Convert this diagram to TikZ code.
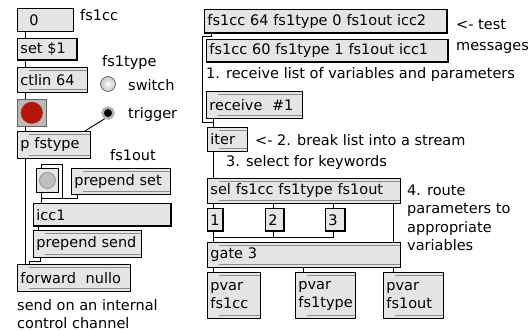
\documentclass[tikz,border=0pt]{standalone}
\usepackage{fontspec}
\setmainfont{DejaVu Sans}
\definecolor{boxfill}{RGB}{229,229,229}
\definecolor{stripe}{RGB}{140,140,140}
\definecolor{bangred}{RGB}{180,22,10}
\tikzset{
  maxbox/.style={draw, line width=0.9pt, fill=boxfill, anchor=north west,
    inner xsep=3pt, inner ysep=0pt, align=left, font=\fontsize{14.5}{18}\selectfont},
  obj/.style={maxbox, path picture={
      \draw[stripe, line width=0.8pt] ([yshift=-3pt]path picture bounding box.north west) -- ([yshift=-3pt]path picture bounding box.north east);
      \draw[stripe, line width=0.8pt] ([yshift=3pt]path picture bounding box.south west) -- ([yshift=3pt]path picture bounding box.south east);
      \fill ([yshift=-3.5pt]path picture bounding box.north west) rectangle ([xshift=12pt]path picture bounding box.north west);
      \fill ([yshift=3.5pt]path picture bounding box.south west) rectangle ([xshift=12pt]path picture bounding box.south west);}},
  msg/.style={maxbox, path picture={
      \draw[line width=2.6pt] (path picture bounding box.south west) -- (path picture bounding box.south east) -- (path picture bounding box.north east);}},
  numbox/.style={maxbox},
  redbang/.style={anchor=north west, minimum width=29pt, minimum height=27pt, inner sep=0pt,
    fill=gray!55, draw=gray!80!black, line width=0.6pt,
    path picture={\fill[bangred] (path picture bounding box.center) circle[radius=11pt];}},
  graybang/.style={anchor=north west, minimum width=22pt, minimum height=24pt, inner sep=0pt,
    fill=boxfill, draw, line width=0.9pt,
    path picture={\filldraw[fill=gray!50, draw=gray!80] (path picture bounding box.center) circle[radius=8pt];}},
  radio/.style={circle, inner sep=0pt},
  radiooff/.style={radio, minimum size=15pt, draw=gray!70!black, line width=0.6pt, inner color=white, outer color=gray!45},
  radioon/.style={radio, minimum size=11pt, fill=black, draw=gray!60, line width=2.5pt},
  note/.style={anchor=west, inner sep=0pt, align=left, font=\fontsize{14.5}{18}\selectfont},
  cord/.style={line width=0.9pt}
}
\begin{document}
\begin{tikzpicture}[x=1pt,y=-1pt]
\useasboundingbox[fill=white] (0,0) rectangle (531,331);

% left column: controller input
\node[numbox, text width=50pt, minimum height=23pt] (num) at (17,8) {\hspace*{9pt}0};
\node[note] (lcc) at (80,15) {fs1cc};
\node[msg, text width=54pt, minimum height=22pt] (set) at (17,38) {set \$1};
\node[obj, text width=64pt, minimum height=25pt] (ctlin) at (17,67) {ctlin 64};
\node[redbang] (bang) at (17,99) {};
\node[note] (ltype) at (102,63) {fs1type};
\node[radiooff] (sw) at (108,84) {};
\node[note] (lsw) at (128,85) {switch};
\node[radioon] (trig) at (108,113) {};
\node[note] (ltrig) at (128,115) {trigger};
\node[obj, text width=67pt, minimum height=27pt] (pfs) at (17,131) {p fstype};
\node[note] (lout) at (110,155) {fs1out};
\node[graybang] (gbang) at (36,168) {};
\node[obj, text width=93pt, minimum height=26pt] (pset) at (71,168) {prepend set};
\node[msg, text width=132pt, minimum height=23pt] (icc) at (33,203) {icc1};
\node[obj, text width=102pt, minimum height=27pt] (psend) at (33,230) {prepend send};
\node[obj, text width=107pt, minimum height=27pt] (fwd) at (17,264) {forward\ \ nullo};
\node[note] (lsend) at (17,314) {send on an internal\\control channel};

\foreach \a/\b in {num/set, set/ctlin, ctlin/bang, bang/pfs, pfs/fwd}
  \draw[cord] ([xshift=8pt]\a.south west) -- ([xshift=8pt]\a.south west |- \b.north);
\draw[cord] (trig.240) -- ([xshift=-6pt]pfs.north east);

\coordinate (knee) at (62,198);
\draw[cord] ([xshift=6pt]pset.south west) -- ++(0,4) -| ([xshift=8pt]icc.north west);
\draw[cord] (knee) |- ([xshift=5pt,yshift=4pt]gbang.north west) -- ([xshift=5pt]gbang.north west);
\draw[cord] ([xshift=5pt]gbang.south west) -- ([xshift=5pt]gbang.south west |- icc.north);
\draw[cord] ([xshift=5pt]icc.south west) -- ([xshift=5pt]icc.south west |- psend.north);
\draw[cord] ([xshift=7pt]psend.south west) -- ++(0,4) -| ([xshift=12pt]fwd.north west);

% right column: parsing the list
\node[msg, text width=237pt, minimum height=24pt] (m1) at (204,9) {fs1cc 64 fs1type 0 fs1out icc2};
\node[msg, text width=236pt, minimum height=23pt] (m2) at (206,39) {fs1cc 60 fs1type 1 fs1out icc1};
\node[note, font=\fontsize{14.5}{21}\selectfont] (ltest) at (456,36) {<- test\\messages};
\node[note] (l1) at (206,75) {1. receive list of variables and parameters};
\node[obj, text width=90pt, minimum height=27pt] (recv) at (206,91) {receive\ \ \#1};
\node[obj, text width=34pt, minimum height=24pt] (iter) at (207,127) {iter};
\node[note] (l2) at (255,140) {<- 2. break list into a stream};
\node[note] (l3) at (226,163) {3. select for keywords};
\node[obj, text width=187pt, minimum height=25pt] (sel) at (207,178) {sel fs1cc fs1type fs1out};
\node[note, font=\fontsize{14.5}{18.5}\selectfont] (l4) at (407,218) {4. route\\parameters to\\appropriate\\variables};
\node[msg, text width=10pt, minimum height=23pt] (n1) at (207,208) {1};
\node[msg, text width=13pt, minimum height=23pt] (n2) at (265,208) {2};
\node[msg, text width=14pt, minimum height=23pt] (n3) at (325,208) {3};
\node[obj, text width=187pt, minimum height=25pt] (gate) at (207,242) {gate 3};
\node[obj, text width=47pt, minimum height=46pt] (pv1) at (207,272) {pvar\\fs1cc};
\node[obj, text width=54pt, minimum height=46pt] (pv2) at (295,272) {pvar\\fs1type};
\node[obj, text width=54pt, minimum height=46pt] (pv3) at (383,272) {pvar\\fs1out};

\coordinate (bend) at (202,122);
\draw[cord] ([xshift=7pt]m1.south west) -- ++(0,3) -| (bend) -| ([xshift=6pt]iter.north west);
\draw[cord] ([xshift=7pt]recv.south west) -- ([xshift=7pt]recv.south west |- iter.north);
\draw[cord] ([xshift=6pt]iter.south west) -- ([xshift=6pt]iter.south west |- sel.north);
\foreach \dx/\n in {6/n1, 66/n2, 126/n3}
  \draw[cord] ([xshift=\dx pt]sel.south west) -- ([xshift=\dx pt]sel.south west |- \n.north);
\draw[cord] ([xshift=-7pt]sel.south east) -- ([xshift=-7pt]sel.south east |- gate.north);
\draw[cord] ([xshift=6pt]n1.south west) -- ([xshift=6pt]n1.south west |- gate.north);
\coordinate (bus) at (213,237);
\draw[cord] ([xshift=8pt]n3.south west) |- (bus);
\draw[cord] ([xshift=8pt]n2.south west) -- ([xshift=8pt]n2.south west |- bus);
\foreach \dx/\n in {6/pv1, 96/pv2, 186/pv3}
  \draw[cord] ([xshift=\dx pt]gate.south west) -- ([xshift=\dx pt]gate.south west |- \n.north);
\end{tikzpicture}
\end{document}
